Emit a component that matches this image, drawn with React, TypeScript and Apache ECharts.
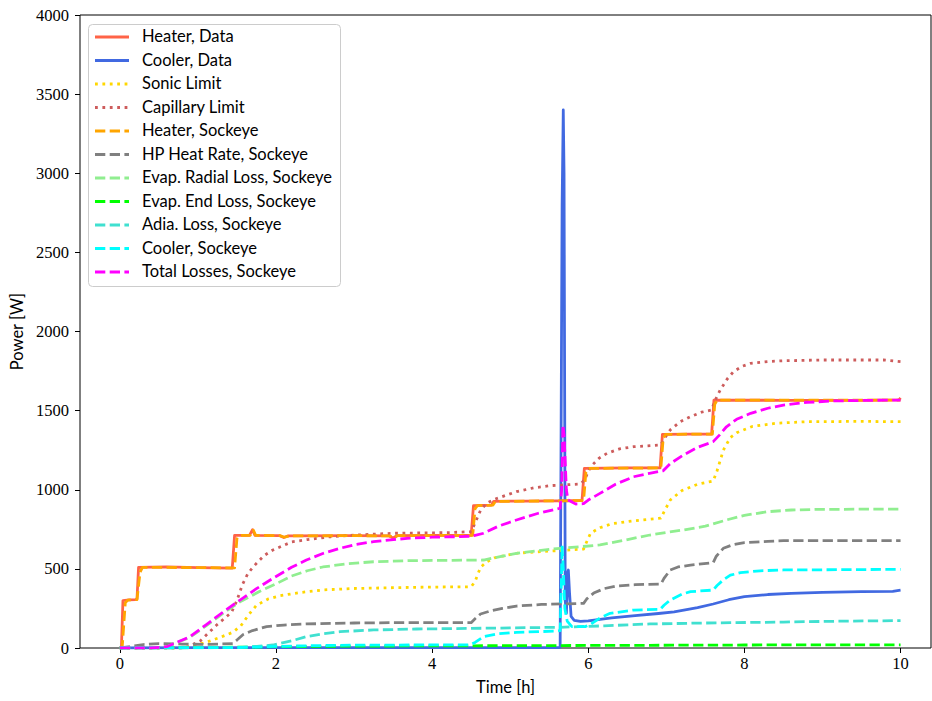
import React, { useEffect, useRef } from "react";
import * as echarts from "echarts";

type Pt = [number, number];

// Time [h] vs. power [W]
const heaterData: Pt[] = [
  [0, 0], [0.02, 0], [0.04, 300], [0.12, 304], [0.2, 306], [0.22, 310], [0.24, 510], [0.6, 512],
  [1.0, 508], [1.44, 505], [1.47, 712], [1.66, 712], [1.7, 748], [1.73, 712], [2.05, 710],
  [2.1, 698], [2.15, 708], [3.0, 710], [3.45, 708], [3.5, 695], [3.55, 710], [4.0, 712],
  [4.5, 712], [4.53, 900], [4.76, 903], [4.79, 927], [5.2, 928], [5.6, 930], [5.92, 932],
  [5.95, 1135], [6.5, 1138], [6.92, 1138], [6.95, 1350], [7.3, 1352], [7.58, 1352],
  [7.61, 1567], [8.5, 1565], [9.5, 1565], [9.98, 1568], [10, 1580],
];

const coolerData: Pt[] = [
  [0, 0], [1, 2], [3, 3], [5.62, 3], [5.64, 5], [5.665, 2800], [5.68, 3400], [5.69, 3000],
  [5.705, 300], [5.72, 220], [5.738, 480], [5.745, 493], [5.76, 350], [5.78, 200], [5.82, 175],
  [5.9, 168], [6.0, 172], [6.3, 190], [6.6, 205], [6.9, 218], [7.1, 228], [7.4, 255],
  [7.6, 278], [7.8, 305], [8.0, 325], [8.3, 338], [8.6, 345], [9.0, 352], [9.5, 356],
  [9.9, 358], [10, 365],
];

const sonicLimit: Pt[] = [
  [0, 0], [0.7, 0], [0.9, 10], [1.1, 35], [1.3, 70], [1.45, 100], [1.55, 140], [1.65, 210],
  [1.75, 270], [1.9, 310], [2.05, 330], [2.3, 350], [2.6, 367], [3.0, 376], [3.5, 381],
  [4.0, 385], [4.5, 387], [4.55, 420], [4.62, 510], [4.7, 545], [4.8, 570], [5.1, 600],
  [5.5, 612], [5.94, 625], [5.97, 660], [6.03, 726], [6.15, 760], [6.3, 785], [6.6, 805],
  [6.93, 820], [6.97, 860], [7.05, 935], [7.2, 995], [7.4, 1035], [7.6, 1055], [7.65, 1120],
  [7.73, 1250], [7.82, 1330], [7.9, 1360], [8.1, 1400], [8.4, 1420], [8.8, 1430],
  [9.5, 1432], [10, 1430],
];

const capillaryLimit: Pt[] = [
  [0, 0], [0.85, 0], [1.03, 45], [1.24, 145], [1.43, 225], [1.5, 300], [1.57, 400],
  [1.64, 470], [1.71, 514], [1.85, 585], [1.96, 619], [2.2, 670], [2.4, 685], [2.7, 703],
  [3.03, 714], [3.5, 725], [4.19, 729], [4.5, 735], [4.55, 790], [4.62, 870], [4.7, 915],
  [4.8, 940], [5.08, 988], [5.3, 1012], [5.51, 1026], [5.9, 1036], [5.95, 1060],
  [6.03, 1146], [6.14, 1200], [6.24, 1230], [6.4, 1258], [6.58, 1272], [6.93, 1283],
  [6.97, 1320], [7.05, 1378], [7.18, 1430], [7.31, 1462], [7.45, 1490], [7.58, 1504],
  [7.62, 1560], [7.69, 1630], [7.78, 1700], [7.86, 1746], [7.97, 1780], [8.08, 1799],
  [8.3, 1810], [8.5, 1815], [9.0, 1820], [9.78, 1820], [10, 1809],
];

const heaterSockeye: Pt[] = [
  [0, 0], [0.03, 0], [0.07, 285], [0.1, 302], [0.22, 306], [0.26, 480], [0.29, 510],
  [1.0, 508], [1.47, 506], [1.5, 690], [1.54, 712], [1.67, 712], [1.71, 745], [1.74, 712],
  [2.05, 710], [2.11, 700], [2.17, 708], [3.0, 710], [3.46, 708], [3.51, 697], [3.56, 710],
  [4.52, 712], [4.55, 880], [4.58, 900], [4.78, 903], [4.81, 926], [5.6, 930], [5.94, 931],
  [5.97, 1110], [6.0, 1135], [6.93, 1138], [6.96, 1325], [6.99, 1350], [7.59, 1352],
  [7.62, 1540], [7.65, 1566], [10, 1566],
];

const hpHeatRate: Pt[] = [
  [0, 0], [0.15, 10], [0.3, 22], [0.5, 28], [0.8, 25], [1.1, 22], [1.45, 28], [1.5, 50],
  [1.58, 85], [1.7, 110], [1.88, 135], [2.1, 145], [2.39, 152], [3.0, 158], [3.5, 160],
  [4.5, 160], [4.55, 185], [4.62, 215], [4.75, 235], [4.9, 250], [5.08, 265], [5.4, 275],
  [5.94, 282], [5.98, 310], [6.07, 347], [6.2, 375], [6.37, 392], [6.6, 400], [6.93, 404],
  [6.97, 440], [7.05, 493], [7.15, 512], [7.31, 524], [7.6, 539], [7.64, 580], [7.73, 630],
  [7.85, 652], [8.0, 666], [8.3, 674], [8.5, 678], [10, 678],
];

const evapRadialLoss: Pt[] = [
  [0, 0], [0.4, 0], [0.6, 8], [0.9, 68], [1.1, 138], [1.33, 222], [1.54, 292], [1.8, 360],
  [2.0, 405], [2.2, 455], [2.4, 488], [2.6, 512], [2.9, 532], [3.25, 545], [3.7, 552],
  [4.2, 554], [4.66, 556], [4.9, 580], [5.08, 598], [5.35, 615], [5.64, 630], [5.9, 640],
  [6.15, 651], [6.4, 675], [6.79, 714], [7.0, 730], [7.22, 746], [7.5, 770], [7.77, 809],
  [8.0, 838], [8.29, 861], [8.6, 872], [8.93, 876], [10, 878],
];

const evapEndLoss: Pt[] = [
  [0, 0], [1.0, 2], [2.0, 8], [3.0, 12], [4.5, 14], [6.0, 16], [8.0, 19], [10, 20],
];

const adiaLoss: Pt[] = [
  [0, 0], [1.5, 2], [1.7, 8], [1.96, 19], [2.2, 45], [2.39, 72], [2.6, 90], [2.82, 103],
  [3.25, 114], [3.8, 120], [4.49, 124], [5.0, 127], [5.64, 131], [6.2, 140], [6.79, 152],
  [7.5, 158], [8.5, 164], [9.3, 170], [10, 173],
];

const coolerSockeye: Pt[] = [
  [0, 0], [1.5, 3], [2.0, 10], [2.5, 15], [3.0, 18], [4.49, 20], [4.55, 35], [4.66, 72],
  [4.85, 90], [5.08, 99], [5.6, 107], [5.64, 110], [5.655, 400], [5.665, 650], [5.68, 500],
  [5.7, 250], [5.73, 170], [5.79, 135], [5.96, 135], [6.03, 150], [6.15, 190], [6.28, 219],
  [6.58, 240], [6.92, 244], [6.97, 270], [7.05, 303], [7.2, 340], [7.31, 356], [7.6, 366],
  [7.65, 395], [7.73, 430], [7.82, 460], [7.95, 476], [8.2, 488], [8.5, 493], [10, 497],
];

const totalLosses: Pt[] = [
  [0, 0], [0.4, 0], [0.6, 8], [0.9, 72], [1.1, 145], [1.33, 230], [1.54, 303], [1.75, 375],
  [1.96, 440], [2.2, 510], [2.39, 556], [2.6, 597], [2.82, 630], [3.03, 655], [3.25, 672],
  [3.68, 693], [4.0, 700], [4.49, 705], [4.55, 712], [4.66, 725], [4.85, 770], [5.08, 809],
  [5.35, 850], [5.64, 883], [5.66, 1000], [5.675, 1410], [5.69, 1350], [5.72, 1000],
  [5.74, 935], [5.84, 910], [5.94, 912], [6.0, 935], [6.15, 977], [6.35, 1035], [6.58, 1082],
  [6.8, 1105], [6.96, 1120], [7.05, 1165], [7.22, 1220], [7.4, 1268], [7.6, 1304],
  [7.68, 1345], [7.77, 1398], [7.9, 1445], [8.08, 1483], [8.3, 1515], [8.5, 1535],
  [8.8, 1552], [9.14, 1561], [9.6, 1565], [10, 1567],
];

const xTicks = [0, 2, 4, 6, 8, 10];

const SERIF = "Liberation Serif";
const SANS = "Lato";

const LW = 2.78;
const DASHED = [10.3, 4.4];
const DOTTED = [2.8, 4.6];

type Spec = { name: string; data: Pt[]; color: string; dash: number[] | null };

const specs: Spec[] = [
  { name: "Heater, Data", data: heaterData, color: "#FF6347", dash: null },
  { name: "Cooler, Data", data: coolerData, color: "#4169E1", dash: null },
  { name: "Sonic Limit", data: sonicLimit, color: "#FFD700", dash: DOTTED },
  { name: "Capillary Limit", data: capillaryLimit, color: "#CD5C5C", dash: DOTTED },
  { name: "Heater, Sockeye", data: heaterSockeye, color: "#FFA500", dash: DASHED },
  { name: "HP Heat Rate, Sockeye", data: hpHeatRate, color: "#808080", dash: DASHED },
  { name: "Evap. Radial Loss, Sockeye", data: evapRadialLoss, color: "#90EE90", dash: DASHED },
  { name: "Evap. End Loss, Sockeye", data: evapEndLoss, color: "#00FF00", dash: DASHED },
  { name: "Adia. Loss, Sockeye", data: adiaLoss, color: "#40E0D0", dash: DASHED },
  { name: "Cooler, Sockeye", data: coolerSockeye, color: "#00FFFF", dash: DASHED },
  { name: "Total Losses, Sockeye", data: totalLosses, color: "#FF00FF", dash: DASHED },
];

// Legend box geometry (pixels)
const LEG_X = 88;
const LEG_Y = 24;
const LEG_W = 252;
const LEG_H = 262;
const LEG_ROW0 = 37;
const LEG_STEP = 23.5;

function buildLegend() {
  const children: any[] = [
    {
      type: "rect",
      shape: { x: LEG_X + 0.5, y: LEG_Y + 0.5, width: LEG_W, height: LEG_H, r: 4 },
      style: { fill: "rgba(255,255,255,0.8)", stroke: "#cccccc", lineWidth: 1 },
    },
  ];
  specs.forEach((s, i) => {
    const y = LEG_ROW0 + i * LEG_STEP;
    children.push({
      type: "line",
      shape: { x1: LEG_X + 7, y1: y, x2: LEG_X + 41, y2: y },
      style: {
        stroke: s.color,
        lineWidth: LW,
        lineDash: s.dash || null,
        lineCap: "butt",
      },
    });
    children.push({
      type: "text",
      style: {
        text: s.name,
        x: LEG_X + 54,
        y: y - 1,
        fontFamily: SANS,
        fontSize: 16.5,
        fill: "#000000",
        verticalAlign: "middle",
        align: "left",
      },
    });
  });
  return [{ type: "group", z: 100, silent: true, children }];
}

export default function App() {
  const ref = useRef<HTMLDivElement>(null);

  useEffect(() => {
    if (!ref.current) return;
    const chart = echarts.init(ref.current, undefined, { renderer: "svg" });

    const series = specs.map((s) => ({
      name: s.name,
      type: "line",
      data: s.data,
      symbol: "none",
      showSymbol: false,
      silent: true,
      lineStyle: {
        color: s.color,
        width: LW,
        type: s.dash ? s.dash : "solid",
        join: "round",
        cap: "butt",
      },
      itemStyle: { color: s.color },
      emphasis: { disabled: true },
    }));

    chart.setOption({
      animation: false,
      backgroundColor: "#ffffff",
      grid: {
        left: 80,
        top: 15,
        right: 1,
        bottom: 53,
        show: true,
        borderColor: "#000000",
        borderWidth: 1,
        backgroundColor: "transparent",
      },
      xAxis: {
        type: "value",
        min: -0.51,
        max: 10.39,
        name: "Time [h]",
        nameLocation: "middle",
        nameGap: 30,
        nameTextStyle: { fontFamily: SANS, fontSize: 16.5, color: "#000000" },
        axisLine: { show: false, onZero: false },
        splitLine: { show: false },
        axisTick: {
          show: true,
          inside: false,
          length: 5,
          customValues: xTicks,
          lineStyle: { color: "#000000", width: 1 },
        },
        axisLabel: {
          customValues: xTicks,
          margin: 7,
          fontFamily: SERIF,
          fontSize: 16.5,
          color: "#000000",
          formatter: (v: number) => String(v),
        },
      },
      yAxis: {
        type: "value",
        min: 0,
        max: 4000,
        interval: 500,
        name: "Power [W]",
        nameLocation: "middle",
        nameGap: 55,
        nameTextStyle: { fontFamily: SANS, fontSize: 16.5, color: "#000000" },
        axisLine: { show: false, onZero: false },
        splitLine: { show: false },
        axisTick: {
          show: true,
          inside: false,
          length: 5,
          lineStyle: { color: "#000000", width: 1 },
        },
        axisLabel: {
          margin: 11,
          fontFamily: SERIF,
          fontSize: 16.5,
          color: "#000000",
          formatter: (v: number) => String(v),
        },
      },
      graphic: buildLegend(),
      series,
    });

    return () => {
      chart.dispose();
    };
  }, []);

  return (
    <div
      ref={ref}
      style={{ position: "fixed", left: 0, top: 0, width: 932, height: 701, background: "#fff" }}
    />
  );
}
